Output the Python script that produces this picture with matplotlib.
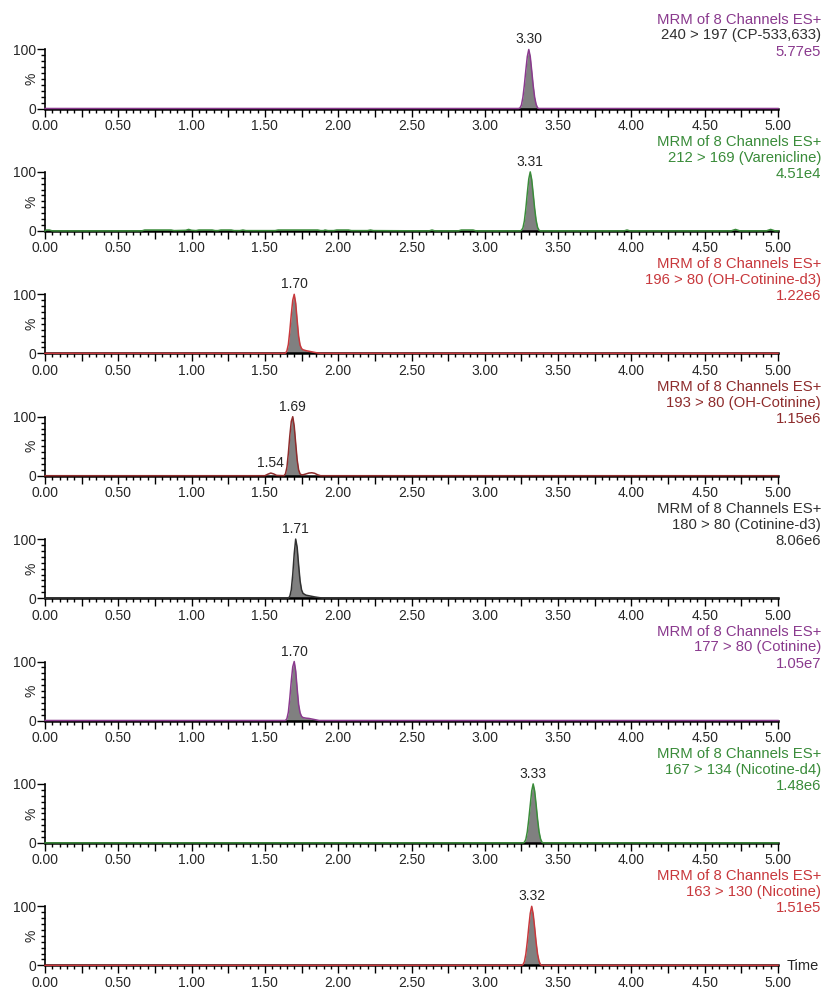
import numpy as np
import matplotlib
matplotlib.use("Agg")
import matplotlib.pyplot as plt
from matplotlib.ticker import MultipleLocator, FixedLocator, FuncFormatter

plt.rcParams['font.family'] = ['Liberation Sans', 'DejaVu Sans']
plt.rcParams['font.size'] = 10

# channel info (top to bottom)
transitions = ['240 > 197 (CP-533,633)', '212 > 169 (Varenicline)',
               '196 > 80 (OH-Cotinine-d3)', '193 > 80 (OH-Cotinine)',
               '180 > 80 (Cotinine-d3)', '177 > 80 (Cotinine)',
               '167 > 134 (Nicotine-d4)', '163 > 130 (Nicotine)']
intensities = ['5.77e5', '4.51e4', '1.22e6', '1.15e6',
               '8.06e6', '1.05e7', '1.48e6', '1.51e5']
retention = [3.30, 3.31, 1.70, 1.69, 1.71, 1.70, 3.33, 3.32]
peak_start = [3.23, 3.24, 1.64, 1.63, 1.66, 1.64, 3.26, 3.25]
peak_end = [3.37, 3.38, 1.88, 1.76, 1.89, 1.87, 3.40, 3.39]

# traces (time in min, relative intensity in %)
t_cp = [0.00, 3.23, 3.24, 3.25, 3.26, 3.27, 3.28, 3.29, 3.30, 3.31, 3.32,
        3.33, 3.34, 3.35, 3.36, 3.37, 5.00]
y_cp = [0, 0, 1, 6, 19, 40, 65, 88, 100, 88, 64, 39, 19, 7, 1, 0, 0]

t_var = [0.00, 0.01, 0.03, 0.05, 0.66, 0.68, 0.86, 0.88, 0.96, 0.98, 1.00,
         1.03, 1.05, 1.14, 1.16, 1.18, 1.20, 1.27, 1.29, 1.33, 1.35, 1.37,
         1.57, 1.59, 1.86, 1.88, 1.90, 1.91, 1.93, 1.97, 1.99, 2.07, 2.09,
         2.20, 2.22, 2.24, 2.62, 2.64, 2.66, 2.82, 2.84, 2.92, 2.94,
         3.24, 3.25, 3.26, 3.27, 3.28, 3.29, 3.30, 3.31, 3.32, 3.33, 3.34,
         3.35, 3.36, 3.37, 3.38, 3.95, 3.97, 3.99, 4.68, 4.71, 4.74, 4.92,
         4.95, 4.98, 5.00]
y_var = [0, 1.5, 1.5, 0, 0, 1.5, 1.5, 0.5, 1, 2.5, 1,
         0.5, 1.5, 1.5, 0.5, 0.5, 1.5, 1.5, 0.5, 0.5, 1.5, 0.5,
         0.5, 1.5, 1.5, 0.5, 0.5, 1.5, 0.5, 0.5, 1.5, 1.5, 0.5,
         0.5, 1.5, 0.5, 0, 1.5, 0, 0, 1.5, 1.5, 0,
         0, 1, 5, 17, 38, 64, 88, 100, 87, 63, 38,
         18, 6, 1, 0, 0, 1.5, 0, 0, 2.5, 0, 0,
         2.5, 0, 0]

t_ohcd3 = [0.00, 1.64, 1.65, 1.66, 1.67, 1.68, 1.69, 1.70, 1.71, 1.72, 1.73,
           1.74, 1.75, 1.76, 1.78, 1.80, 1.82, 1.84, 1.86, 1.88, 5.00]
y_ohcd3 = [0, 0, 4, 15, 38, 66, 90, 100, 85, 56, 29,
           14, 8, 6, 4.5, 3.5, 2.5, 1.5, 0.5, 0, 0]

t_ohc = [0.00, 1.50, 1.52, 1.54, 1.56, 1.58, 1.63, 1.64, 1.65, 1.66, 1.67,
         1.68, 1.69, 1.70, 1.71, 1.72, 1.73, 1.74, 1.75, 1.76, 1.78, 1.80,
         1.82, 1.84, 1.86, 1.88, 5.00]
y_ohc = [0, 0, 2.5, 4.5, 3, 0.5, 0, 3, 14, 38, 68,
         92, 100, 84, 55, 27, 10, 3, 1.5, 1.5, 3, 4.5,
         5, 4, 1.5, 0, 0]

t_cd3 = [0.00, 1.66, 1.67, 1.68, 1.69, 1.70, 1.71, 1.72, 1.73, 1.74, 1.75,
         1.76, 1.78, 1.80, 1.82, 1.84, 1.86, 1.88, 1.89, 5.00]
y_cd3 = [0, 0, 3, 14, 40, 75, 100, 86, 56, 29, 14,
         8, 5, 4, 3, 2, 1.2, 0.5, 0, 0]

t_cot = [0.00, 1.64, 1.65, 1.66, 1.67, 1.68, 1.69, 1.70, 1.71, 1.72, 1.73,
         1.74, 1.75, 1.76, 1.78, 1.80, 1.82, 1.84, 1.86, 1.87, 5.00]
y_cot = [0, 0, 3, 14, 38, 67, 91, 100, 84, 54, 27,
         13, 7, 5, 4, 3.5, 2.5, 1.5, 0.5, 0, 0]

t_nd4 = [0.00, 3.26, 3.27, 3.28, 3.29, 3.30, 3.31, 3.32, 3.33, 3.34, 3.35,
         3.36, 3.37, 3.38, 3.39, 3.40, 5.00]
y_nd4 = [0, 0, 1, 6, 19, 40, 64, 88, 100, 88, 65, 40, 19, 7, 1, 0, 0]

t_nic = [0.00, 3.25, 3.26, 3.27, 3.28, 3.29, 3.30, 3.31, 3.32, 3.33, 3.34,
         3.35, 3.36, 3.37, 3.38, 3.39, 5.00]
y_nic = [0, 0, 1, 6, 19, 40, 65, 88, 100, 87, 64, 39, 19, 7, 1, 0, 0]

traces = [(t_cp, y_cp), (t_var, y_var), (t_ohcd3, y_ohcd3), (t_ohc, y_ohc),
          (t_cd3, y_cd3), (t_cot, y_cot), (t_nd4, y_nd4), (t_nic, y_nic)]

# extra labelled minor peak (OH-Cotinine channel)
minor_panel = 3
minor_rt = 1.54
minor_height = 4.5

PURPLE = '#8a3a8e'
GREEN = '#3a8c3a'
RED = '#c8383c'
DKRED = '#8e2c2c'
BLACK = '#303030'
colors = [PURPLE, GREEN, RED, DKRED, BLACK, PURPLE, GREEN, RED]
mid_colors = [BLACK, GREEN, RED, DKRED, BLACK, PURPLE, GREEN, RED]
TXT = '#262626'

W, H = 825, 990
fig = plt.figure(figsize=(W / 100, H / 100), dpi=100)

for i in range(8):
    y0 = 108.5 + i * 122.4  # pixel row of the 0 line
    y100 = y0 - 59
    ax = fig.add_axes([45 / W, 1 - y0 / H, 733 / W, 59 / H])
    ax.set_xlim(0, 5)
    ax.set_ylim(0, 100)

    t = np.array(traces[i][0])
    y = np.array(traces[i][1])
    mask = (t >= peak_start[i]) & (t <= peak_end[i])
    ax.fill_between(t, 0, y, where=mask, color='#808080', lw=0, zorder=2)
    ax.plot(t, y, color=colors[i], lw=1.1, zorder=3, clip_on=False)

    for s in ['top', 'right']:
        ax.spines[s].set_visible(False)
    ax.spines['bottom'].set_linewidth(1.8)
    ax.spines['left'].set_linewidth(1.2)

    ax.xaxis.set_major_locator(MultipleLocator(0.25))
    ax.xaxis.set_minor_locator(MultipleLocator(0.05))
    ax.xaxis.set_major_formatter(FuncFormatter(
        lambda v, p: f'{v:.2f}' if abs(v * 2 - round(v * 2)) < 1e-6 else ''))
    ax.yaxis.set_major_locator(FixedLocator([0, 100]))
    ax.yaxis.set_minor_locator(MultipleLocator(10))
    ax.tick_params(axis='x', which='major', length=5.5, width=1, pad=2,
                   labelsize=10, labelcolor=TXT)
    ax.tick_params(axis='x', which='minor', length=3, width=1)
    ax.tick_params(axis='y', which='major', length=6, width=1, pad=0.5,
                   labelsize=10, labelcolor=TXT)
    ax.tick_params(axis='y', which='minor', length=3, width=1)
    ax.text(-13 / 733, 0.5, '%', transform=ax.transAxes, rotation=90,
            ha='center', va='center', fontsize=10, color=TXT)

    # peak apex label
    ax.annotate(f'{retention[i]:.2f}', xy=(retention[i], 100),
                xytext=(0, 3), textcoords='offset pixels', ha='center',
                va='bottom', fontsize=10, color=TXT, annotation_clip=False)
    if i == minor_panel:
        ax.annotate(f'{minor_rt:.2f}', xy=(minor_rt, minor_height),
                    xytext=(0, 3), textcoords='offset pixels', ha='center',
                    va='bottom', fontsize=10, color=TXT, annotation_clip=False)

    # channel header
    head = ['MRM of 8 Channels ES+', transitions[i], intensities[i]]
    head_col = [colors[i], mid_colors[i], colors[i]]
    for k, off in enumerate([-30, -14, 2]):
        fig.text(821 / W, 1 - (y100 + off) / H, head[k], ha='right',
                 va='center', fontsize=10.7, color=head_col[k])

fig.text(787 / W, 1 - 966 / H, 'Time', ha='left', va='center',
         fontsize=10.5, color=TXT)

fig.savefig('out.png', dpi=100)
